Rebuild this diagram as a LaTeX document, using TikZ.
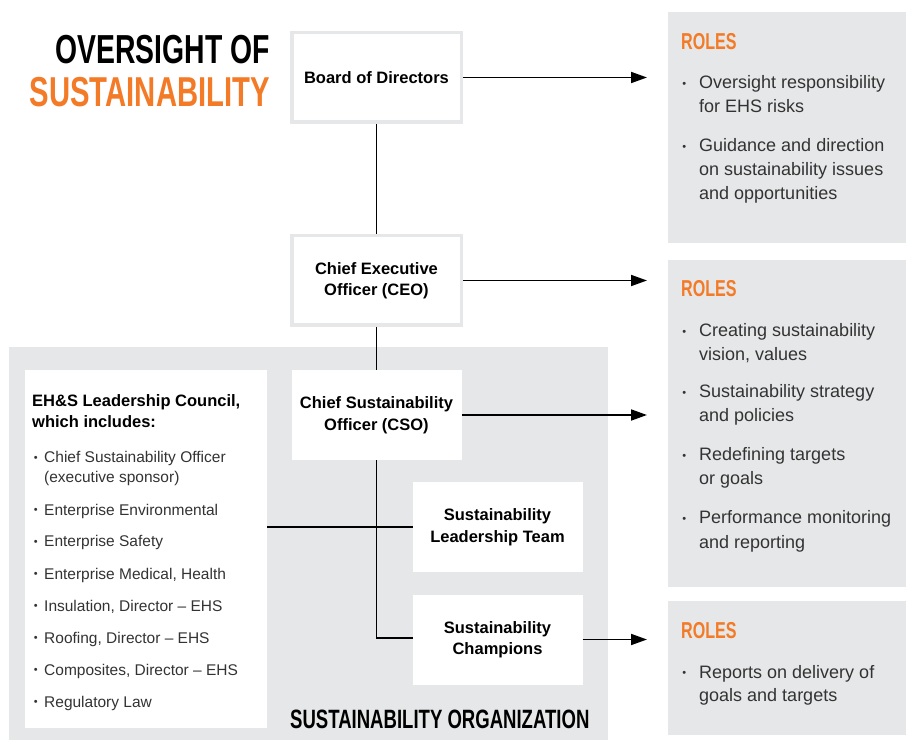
\documentclass[tikz,border=0pt]{standalone}
\usepackage{fontspec}
\setmainfont{Liberation Sans}
\newfontfamily\headfont[FakeStretch=0.7]{Liberation Sans}
\usetikzlibrary{arrows.meta}

\definecolor{panelgray}{RGB}{230,231,232}
\definecolor{accent}{RGB}{243,122,38}
\definecolor{bodygray}{RGB}{51,51,51}

\newcommand\boxlabelfont{\fontsize{16.5}{21.5}\selectfont\bfseries}
\newcommand\rolefont{\fontsize{18}{24}\selectfont}
\newcommand\memberfont{\fontsize{15.5}{21}\selectfont}
\newcommand\dotmark[1]{\makebox[0pt][r]{\raisebox{1.2pt}{\fontsize{11}{11}\selectfont\textbullet}\hspace{#1}}}

\begin{document}
\begin{tikzpicture}[x=1pt,y=-1pt,
  boxframe/.style={draw=panelgray,line width=3.5pt,fill=white,minimum width=169.5pt,
    minimum height=89.5pt,inner sep=0pt,align=center,font=\boxlabelfont},
  whitebox/.style={fill=white,minimum width=170pt,minimum height=90pt,inner sep=0pt,
    align=center,font=\boxlabelfont},
  panel/.style={fill=panelgray,anchor=north west,inner sep=0pt},
  link/.style={line width=1.8pt},
  arrow/.style={link,-{Triangle[length=16pt,width=11pt]},shorten >=21pt},
  roleitem/.style={anchor=base west,inner sep=0pt,text=bodygray,font=\rolefont},
  memberitem/.style={anchor=base west,inner sep=0pt,text=bodygray,font=\memberfont},
  rolehead/.style={anchor=base west,inner sep=0pt,text=accent,
    font=\headfont\bfseries\fontsize{23}{23}\selectfont}]
  \useasboundingbox (0,0) rectangle (906,743);

  % Title
  \node[anchor=base east,inner sep=0pt,font=\headfont\bfseries\fontsize{40.5}{40.5}\selectfont]
    (title1) at (270,64) {OVERSIGHT OF};
  \node[anchor=base east,inner sep=0pt,text=accent,font=\headfont\bfseries\fontsize{41.8}{41.8}\selectfont]
    (title2) at (270,107) {SUSTAINABILITY};

  % Panels
  \node[panel,minimum width=238pt,minimum height=231pt] (roles1) at (668,12) {};
  \node[panel,minimum width=238pt,minimum height=327pt] (roles2) at (668,260) {};
  \node[panel,minimum width=238pt,minimum height=134pt] (roles3) at (668,601) {};
  \node[panel,minimum width=599pt,minimum height=393pt] (org) at (8.5,347) {};
  \node[panel,fill=white,minimum width=242pt,minimum height=358pt] (council) at (25,370) {};

  % Connectors
  \node[boxframe] (bod) at (376.5,77.5) {Board of Directors};
  \node[boxframe] (ceo) at (376.5,280.5) {Chief Executive\\Officer (CEO)};
  \coordinate (cso-top) at (376.5,370);
  \coordinate (slt-left) at (413,527);
  \coordinate (champ-left) at (413,638);
  \draw[link] (bod.south) -- (ceo.north);
  \draw[link] (ceo.south) -- (cso-top);
  \draw[link] (cso-top) |- (champ-left);
  \draw[link] (council.east |- slt-left) -- (slt-left);

  % Boxes
  \node[whitebox] (cso) at (376.5,415) {Chief Sustainability\\Officer (CSO)};
  \node[whitebox] (slt) at (497.5,527) {Sustainability\\Leadership Team};
  \node[whitebox] (champ) at (497.5,639.5) {Sustainability\\Champions};

  % Arrows to roles
  \draw[arrow] (bod.east) -- (bod.east -| roles1.west);
  \draw[arrow] (ceo.east) -- (ceo.east -| roles2.west);
  \draw[arrow] (cso.east) -- (cso.east -| roles2.west);
  \draw[arrow] (champ.east) -- (champ.east -| roles3.west);

  % Roles
  \foreach \y [count=\i] in {50,297,638}
    \node[rolehead] (head\i) at (681,\y) {ROLES};
  \foreach \y/\t/\b [count=\i] in {89/Oversight responsibility/1, 113/for EHS risks/0,
      152/Guidance and direction/1, 176/on sustainability issues/0, 200/and opportunities/0,
      337/Creating sustainability/1, 361/{vision, values}/0, 398/Sustainability strategy/1,
      422/and policies/0, 461/Redefining targets/1, 485/or goals/0,
      524/Performance monitoring/1, 548/and reporting/0,
      678/Reports on delivery of/1, 701/goals and targets/0}
    \node[roleitem] (role\i) at (699,\y) {\ifnum\b=1 \dotmark{13pt}\fi\t};

  % Council members
  \node[anchor=base west,inner sep=0pt,font=\boxlabelfont] (council1) at (32,407) {EH\&S Leadership Council,};
  \node[anchor=base west,inner sep=0pt,font=\boxlabelfont] (council2) at (32,428) {which includes:};
  \foreach \y/\t/\b [count=\i] in {463/Chief Sustainability Officer/1, 483/{(executive sponsor)}/0,
      515/Enterprise Environmental/1, 547/Enterprise Safety/1, 579/{Enterprise Medical, Health}/1,
      611/{Insulation, Director -- EHS}/1, 643/{Roofing, Director -- EHS}/1,
      675/{Composites, Director -- EHS}/1, 707/Regulatory Law/1}
    \node[memberitem] (member\i) at (44,\y) {\ifnum\b=1 \dotmark{6.5pt}\fi\t};

  \node[anchor=base west,inner sep=0pt,font=\headfont\bfseries\fontsize{26.5}{26.5}\selectfont]
    (orglabel) at (290,728) {SUSTAINABILITY ORGANIZATION};
\end{tikzpicture}
\end{document}
